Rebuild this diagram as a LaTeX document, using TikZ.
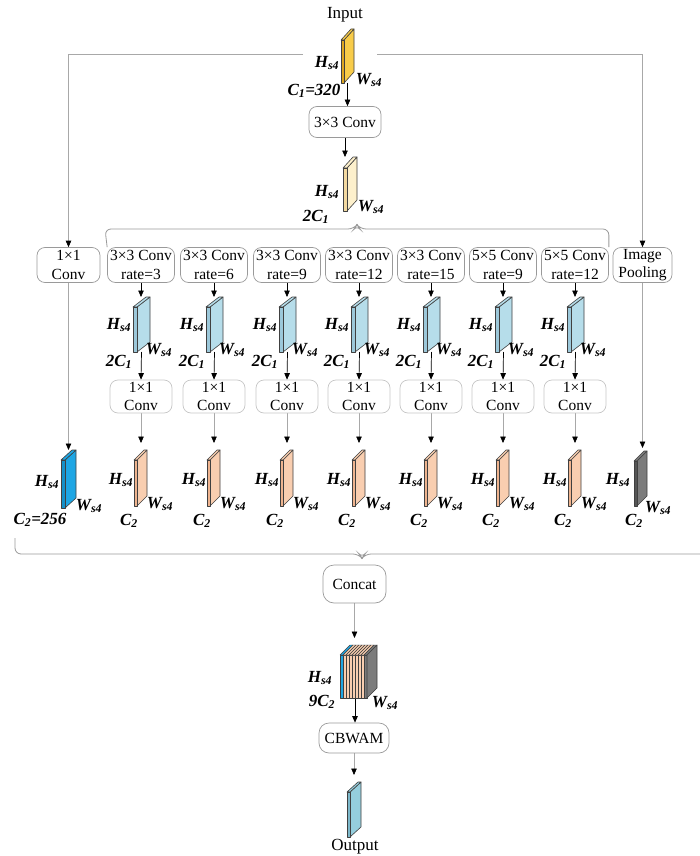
\documentclass[tikz,border=0pt]{standalone}
\usepackage{fontspec}
\setmainfont{Liberation Serif}
\usetikzlibrary{arrows.meta}
\pgfdeclarelayer{bg}
\pgfsetlayers{bg,main}
\definecolor{yfront}{HTML}{DDA520}
\definecolor{yside}{HTML}{F8CC4A}
\definecolor{cfront}{HTML}{F3D9A0}
\definecolor{cside}{HTML}{FDF0CC}
\definecolor{lbfront}{HTML}{9CC8DA}
\definecolor{lbside}{HTML}{B6DDEA}
\definecolor{pfront}{HTML}{EFB48F}
\definecolor{pside}{HTML}{F9CEB0}
\definecolor{bbfront}{HTML}{1590C8}
\definecolor{bbside}{HTML}{1EA6E4}
\definecolor{gfront}{HTML}{555555}
\definecolor{gside}{HTML}{7C7C7C}
\definecolor{ofront}{HTML}{7DB8CA}
\definecolor{oside}{HTML}{95CEDD}
\definecolor{linegray}{HTML}{A8A8A8}
\definecolor{boxgray}{HTML}{9A9A9A}
\newcommand{\Slab}[9]{%
  \filldraw[fill=#9, slabedge] ({#2+#5},{#3}) -- ({#2+#5},{#3-#4}) -- ({#2+#5+#6},{#3-#4-#7}) -- ({#2+#5+#6},{#3-#7}) -- cycle;
  \filldraw[fill=#9, slabedge] ({#2},{#3-#4}) -- ({#2+#5},{#3-#4}) -- ({#2+#5+#6},{#3-#4-#7}) -- ({#2+#6},{#3-#4-#7}) -- cycle;
  \filldraw[fill=#8, slabedge] ({#2},{#3}) rectangle ({#2+#5},{#3-#4});
  \coordinate (#1-top) at ({#2+(#5+#6)/2},{#3-#4-#7});
  \coordinate (#1-bot) at ({#2+(#5+#6)/2},{#3});
}
\newcommand{\HS}{\textit{H\textsubscript{s4}}}
\newcommand{\WS}{\textit{W\textsubscript{s4}}}
\begin{document}
\begin{tikzpicture}[x=1pt,y=-1pt,
  slabedge/.style={draw=black!75, line width=0.6pt, line join=round},
  cbox/.style={draw=boxgray, line width=0.7pt, rounded corners=8pt, align=center, inner sep=0pt,
    font=\fontsize{15.5}{18.5}\selectfont},
  cboxl/.style={cbox, draw=gray!45},
  lab/.style={inner sep=0pt, font=\fontsize{17}{19}\selectfont\bfseries},
  txt/.style={inner sep=0pt, font=\fontsize{17}{19}\selectfont},
  arr/.style={line width=0.7pt, -{Triangle[length=6.5pt,width=5.5pt,color=black]}},
  garr/.style={arr, draw=linegray},
  brace/.style={draw=gray!80, line width=0.8pt, rounded corners=6pt}]
\path[use as bounding box] (0,0) rectangle (700,856);

% ---------- top part ----------
\node[txt] (tin) at (345,15) {Input};
\Slab{in}{341}{83}{43}{3}{10}{11}{yfront}{yside}
\node[lab] (inH) at (327,63) {\HS};
\node[lab] (inW) at (369,80) {\WS};
\node[lab] (inC) at (314,91) {\textit{C\textsubscript{1}=320}};
\coordinate (inL) at (303,54);
\coordinate (inR) at (377,54);

\node[cbox, minimum width=72pt, minimum height=31pt] (c33) at (345,122) {3×3 Conv};
\Slab{cr}{343}{211}{43}{4}{10}{11}{cfront}{cside}
\node[lab] (crH) at (327,192) {\HS};
\node[lab] (crW) at (371,207) {\WS};
\node[lab] (crC) at (316,217) {\textit{2C\textsubscript{1}}};

% ---------- branch row ----------
\node[cbox, minimum width=63pt, minimum height=35pt] (b0) at (68.5,265) {1×1\\Conv};
\node[cbox, minimum width=59pt, minimum height=35pt] (bp) at (642.5,265) {Image\\Pooling};

\foreach \i/\cx/\kk/\rr in {1/141/3/3, 2/214/3/6, 3/287/3/9, 4/359/3/12, 5/431/3/15, 6/503/5/9, 7/575/5/12}{
  \node[cbox, minimum width=67pt, minimum height=35pt] (br\i) at (\cx,265) {\kk×\kk{} Conv\\rate=\rr};
  \Slab{bs\i}{\cx-8}{352}{45}{4}{13}{10}{lbfront}{lbside}
  \node[lab] (bsH\i) at (\cx-22,325) {\HS};
  \node[lab] (bsW\i) at (\cx+18,350) {\WS};
  \node[lab] (bsC\i) at (\cx-22,362) {\textit{2C\textsubscript{1}}};
  \node[cboxl, minimum width=62pt, minimum height=33pt] (cv\i) at (\cx,396.5) {1×1\\Conv};
  \Slab{ps\i}{\cx-7}{506}{46}{3}{10}{10}{pfront}{pside}
  \node[lab] (psH\i) at (\cx-20,480) {\HS};
  \node[lab] (psW\i) at (\cx+19,504) {\WS};
  \node[lab] (psC\i) at (\cx-12,521) {\textit{C\textsubscript{2}}};
  \begin{pgfonlayer}{bg}
    \draw[arr] (br\i.south) -- (br\i.south |- bs\i-top);
    \draw[arr] (bs\i-bot) -- (cv\i.north);
    \draw[garr, shorten >=7pt] (cv\i.south) -- (cv\i.south |- ps\i-top);
  \end{pgfonlayer}
}

\Slab{bb}{61}{508}{48}{4}{11}{10}{bbfront}{bbside}
\node[lab] (bbH) at (47,482) {\HS};
\node[lab] (bbW) at (89,506) {\WS};
\node[lab] (bbC) at (40,520) {\textit{C\textsubscript{2}=256}};

\Slab{gs}{634}{506}{45}{3}{10}{10}{gfront}{gside}
\node[lab] (gsH) at (618,480) {\HS};
\node[lab] (gsW) at (658,508) {\WS};
\node[lab] (gsC) at (634,521) {\textit{C\textsubscript{2}}};

% top brace
\draw[brace] (br1.north west) -- (105,229) -- (354,229) -- (357,225) -- (360,229) -- (br7.north east |- 0,229) -- (br7.north east);

% bottom brace
\draw[brace] (15,538) -- (15,554) -- (359,554) -- (362,558) -- (365,554) -- (710,554);

% ---------- bottom part ----------
\node[cbox, rounded corners=11pt, minimum width=63pt, minimum height=38pt] (cc) at (354.5,584) {Concat};

\foreach \k/\col in {0/bbside,1/pside,2/pside,3/pside,4/pside,5/pside,6/pside,7/pside,8/gside}{
  \filldraw[fill=\col, slabedge, line width=0.45pt] ({340+3*\k},698) rectangle ({343+3*\k},655);
  \filldraw[fill=\col, slabedge, line width=0.45pt] ({340+3*\k},655) -- ({343+3*\k},655) -- ({353+3*\k},645) -- ({350+3*\k},645) -- cycle;
}
\filldraw[fill=gside, slabedge] (367,698) -- (367,655) -- (377,645) -- (377,688) -- cycle;
\coordinate (cs-top) at (355,645);
\coordinate (cs-bot) at (355,698);
\node[lab] (csH) at (320,678) {\HS};
\node[lab] (csC) at (322,702) {\textit{9C\textsubscript{2}}};
\node[lab] (csW) at (385,703) {\WS};

\node[cbox, rounded corners=10pt, minimum width=70pt, minimum height=30pt] (cb) at (354,738) {CBWAM};
\Slab{out}{347}{837}{45}{3}{11}{10}{ofront}{oside}
\node[txt] (tout) at (355,847) {Output};

% ---------- connectors ----------
\begin{pgfonlayer}{bg}
  \draw[arr] (in-bot) -- (in-bot |- c33.north);
  \draw[arr] (c33.south) -- (c33.south |- cr-top);
  \draw[garr] (inL) -| (b0.north);
  \draw[garr] (inR) -| (bp.north);
  \draw[garr] (b0.south) -- (b0.south |- bb-top);
  \draw[garr, shorten >=3pt] (bp.south) -- (bp.south |- gs-top);
  \draw[garr, shorten >=7pt] (cc.south) -- (cc.south |- cs-top);
  \draw[arr] (cs-bot) -- (cs-bot |- cb.north);
  \draw[garr, shorten >=7pt] (cb.south) -- (cb.south |- out-top);
\end{pgfonlayer}
\end{tikzpicture}
\end{document}
